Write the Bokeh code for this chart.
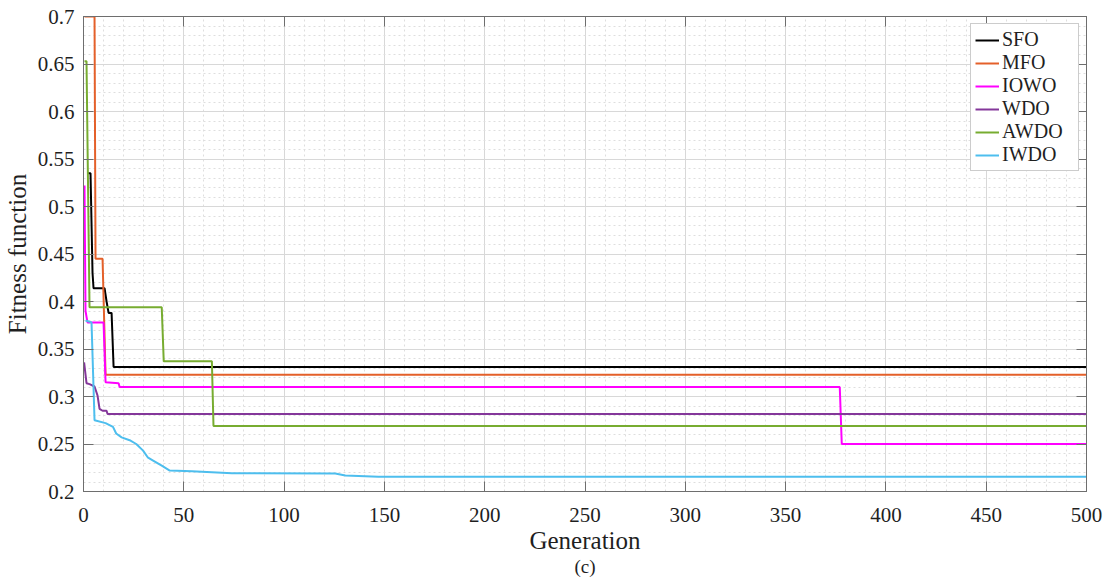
from bokeh.plotting import figure
from bokeh.models import (FixedTicker, CustomJSTickFormatter, LinearAxis, Range1d, Title)
from bokeh.embed import file_html
from bokeh.resources import INLINE

# ---------------- data ----------------
sfo_gen = [2, 3.5, 4.5, 5, 10.5, 11.5, 12.5, 14, 15, 500]
sfo_val = [0.535, 0.535, 0.43, 0.414, 0.414, 0.40, 0.388, 0.388, 0.331, 0.331]

mfo_gen = [0.5, 5.5, 6, 9.5, 11, 500]
mfo_val = [0.70, 0.70, 0.445, 0.445, 0.323, 0.323]

iowo_gen = [0.5, 1, 2, 10, 11, 17.5, 18, 377, 378, 500]
iowo_val = [0.522, 0.39, 0.378, 0.378, 0.315, 0.314, 0.310, 0.310, 0.250, 0.250]

wdo_gen = [0.3, 1.5, 3, 5.5, 7, 8, 9.5, 11.5, 12, 500]
wdo_val = [0.336, 0.314, 0.313, 0.3105, 0.301, 0.287, 0.285, 0.285, 0.2815, 0.2815]

awdo_gen = [0.5, 1.5, 3, 39, 40, 64, 64.8, 500]
awdo_val = [0.653, 0.653, 0.394, 0.394, 0.337, 0.337, 0.269, 0.269]

iwdo_gen = [1, 4, 5.5, 11, 14.7, 16.3, 19, 23, 26.3, 29.7, 32, 34.7, 38.8, 43,
            54, 74, 125.5, 130.5, 147, 500]
iwdo_val = [0.380, 0.378, 0.275, 0.272, 0.268, 0.261, 0.257, 0.254, 0.250, 0.243,
            0.236, 0.2326, 0.2274, 0.222, 0.2213, 0.2193, 0.2190, 0.2168, 0.2155, 0.2155]

series_names = ["SFO", "MFO", "IOWO", "WDO", "AWDO", "IWDO"]
series_colors = ["#000000", "#E4602A", "#FF00FF", "#84379A", "#77AC30", "#4DBEEE"]

x_ticks = [0, 50, 100, 150, 200, 250, 300, 350, 400, 450, 500]
y_ticks = [0.2, 0.25, 0.3, 0.35, 0.4, 0.45, 0.5, 0.55, 0.6, 0.65, 0.7]

x_label = "Generation"
y_label = "Fitness function"
caption = "(c)"

# minor grid positions (every 10 generations / every 0.01)
x_minor = [10 * i for i in range(51)]
y_minor = [round(0.2 + 0.01 * i, 2) for i in range(51)]

# ---------------- figure ----------------
FONT = "Liberation Serif"
AXIS_COL = "#6e6e6e"
TEXT_COL = "#1f1f1f"

p = figure(width=1113, height=579, x_range=Range1d(0, 500), y_range=Range1d(0.2, 0.7),
           output_backend="svg", toolbar_location=None,
           min_border_left=82, min_border_right=27, min_border_top=16, min_border_bottom=88)
p.background_fill_color = "white"
p.border_fill_color = "white"
p.outline_line_color = AXIS_COL
p.outline_line_width = 1

xt = FixedTicker(ticks=x_ticks, minor_ticks=x_minor)
yt = FixedTicker(ticks=y_ticks, minor_ticks=y_minor)
p.xaxis.ticker = xt
p.yaxis.ticker = yt
p.yaxis.formatter = CustomJSTickFormatter(code="return tick.toFixed(2).replace(/0$/, '');")

for ax in (p.xaxis[0], p.yaxis[0]):
    ax.major_tick_in = 10
    ax.major_tick_out = 0
    ax.minor_tick_line_color = None
    ax.axis_line_color = AXIS_COL
    ax.major_tick_line_color = AXIS_COL
    ax.major_label_text_font = FONT
    ax.major_label_text_font_size = "21px"
    ax.major_label_text_color = TEXT_COL
    ax.axis_label_text_font = FONT
    ax.axis_label_text_font_size = "25px"
    ax.axis_label_text_font_style = "normal"
    ax.axis_label_text_color = TEXT_COL

p.xaxis.axis_label = x_label
p.yaxis.axis_label = y_label
p.xaxis.major_label_standoff = 12
p.xaxis.axis_label_standoff = 2
p.yaxis.major_label_standoff = 5
p.yaxis.axis_label_standoff = 4

# box ticks on top and right (no labels)
blank = CustomJSTickFormatter(code="return '';")
top_ax = LinearAxis(ticker=xt, formatter=blank, major_tick_in=10, major_tick_out=0,
                    minor_tick_line_color=None, axis_line_color=AXIS_COL,
                    major_tick_line_color=AXIS_COL, major_label_standoff=0)
right_ax = LinearAxis(ticker=yt, formatter=blank, major_tick_in=10, major_tick_out=0,
                      minor_tick_line_color=None, axis_line_color=AXIS_COL,
                      major_tick_line_color=AXIS_COL, major_label_standoff=0)
p.add_layout(top_ax, "above")
p.add_layout(right_ax, "right")

# grids
p.xgrid.ticker = xt
p.ygrid.ticker = yt
for g in (p.xgrid[0], p.ygrid[0]):
    g.grid_line_color = "#d8d8d8"
    g.grid_line_width = 1
    g.minor_grid_line_color = "#dedede"
    g.minor_grid_line_dash = "2 3"
    g.minor_grid_line_width = 1

# lines
data = [(sfo_gen, sfo_val), (mfo_gen, mfo_val), (iowo_gen, iowo_val),
        (wdo_gen, wdo_val), (awdo_gen, awdo_val), (iwdo_gen, iwdo_val)]
for (gx, gy), name, col in zip(data, series_names, series_colors):
    p.line(gx, gy, line_color=col, line_width=2, legend_label=name)

# legend
lg = p.legend[0]
lg.location = "top_right"
lg.margin = 7
lg.padding = 4
lg.spacing = 0
lg.label_text_font = FONT
lg.label_text_font_size = "20px"
lg.label_text_color = TEXT_COL
lg.label_height = 20
lg.label_width = 72
lg.glyph_height = 20
lg.glyph_width = 24
lg.label_standoff = 3
lg.border_line_color = "#9a9a9a"
lg.border_line_width = 1.5
lg.background_fill_color = "white"
lg.background_fill_alpha = 1

# caption below
p.add_layout(Title(text=caption, align="center", text_font=FONT, text_font_size="19px",
                   text_font_style="normal", text_color=TEXT_COL, standoff=-6), "below")

open("out.html", "w").write(file_html(p, INLINE))
